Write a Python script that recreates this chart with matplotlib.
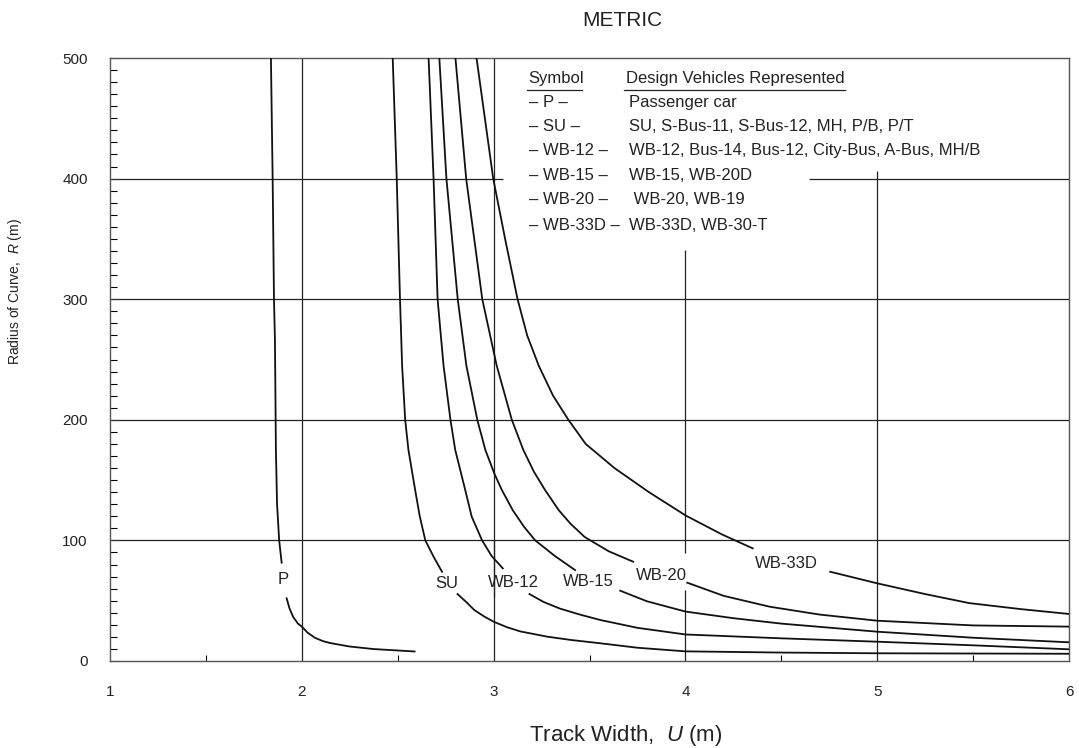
import matplotlib
matplotlib.use("Agg")
import matplotlib.pyplot as plt
from matplotlib.lines import Line2D
import numpy as np

plt.rcParams['font.family'] = ['Liberation Sans', 'DejaVu Sans']
plt.rcParams['mathtext.fontset'] = 'custom'
plt.rcParams['mathtext.rm'] = 'Liberation Sans'
plt.rcParams['mathtext.it'] = 'Liberation Sans:italic'

W, H = 1079, 748

# track width U (m) against radius R (m); every curve is broken around its label
P_U1 = [1.839, 1.848, 1.855, 1.860, 1.865, 1.871, 1.882, 1.895]
P_R1 = [500, 400, 300, 266, 175, 130, 100, 81.5]
P_U2 = [1.921, 1.935, 1.955, 1.980, 2.000, 2.030, 2.069, 2.110, 2.148, 2.250, 2.375, 2.588]
P_R2 = [52, 44, 36.5, 31, 28.5, 23.5, 19.2, 16.5, 14.9, 12.0, 9.9, 7.9]

SU_U1 = [2.474, 2.495, 2.512, 2.523, 2.539, 2.556, 2.591, 2.615, 2.644, 2.687, 2.731]
SU_R1 = [500, 400, 300, 245, 200, 175, 141.8, 120, 100, 86.5, 74]
SU_U2 = [2.812, 2.860, 2.899, 2.950, 3.000, 3.070, 3.140, 3.279, 3.400, 3.556, 3.750, 4.0, 4.5, 5.0, 6.0]
SU_R2 = [55.5, 48.5, 42.3, 37, 32.6, 28, 24.5, 20.2, 17.5, 14.7, 11.0, 8.0, 7.0, 6.4, 6.0]

WB12_U1 = [2.661, 2.687, 2.708, 2.739, 2.775, 2.800, 2.852, 2.886, 2.940, 2.990, 3.048]
WB12_R1 = [500, 400, 300, 245, 200, 175, 141.8, 119.6, 100, 87, 76.8]
WB12_U2 = [3.187, 3.260, 3.345, 3.450, 3.556, 3.750, 4.0, 4.5, 5.0, 5.5, 6.0]
WB12_R2 = [55.5, 49, 43.5, 38.5, 34, 27.5, 22.0, 18.8, 16.0, 13.0, 9.7]

WB15_U1 = [2.717, 2.754, 2.813, 2.858, 2.915, 2.957, 3.005, 3.043, 3.100, 3.160, 3.217, 3.320, 3.425]
WB15_R1 = [500, 400, 300, 245, 200, 175, 155, 141.8, 125, 111, 100, 87, 75.4]
WB15_U2 = [3.660, 3.800, 4.0, 4.25, 4.5, 5.0, 5.5, 6.0]
WB15_R2 = [58.3, 49.5, 41, 35.5, 31, 24.3, 19.3, 15.5]

WB20_U1 = [2.801, 2.857, 2.941, 3.016, 3.095, 3.155, 3.210, 3.268, 3.340, 3.400, 3.475, 3.600, 3.728]
WB20_R1 = [500, 400, 300, 245, 200, 175, 157, 141.8, 125, 114, 102.8, 91, 82.3]
WB20_U2 = [4.010, 4.200, 4.440, 4.700, 5.0, 5.5, 6.0]
WB20_R2 = [64.9, 54, 45, 38.5, 33.4, 29.5, 28.5]

WB33_U1 = [2.911, 2.998, 3.060, 3.125, 3.175, 3.235, 3.310, 3.390, 3.480, 3.630, 3.810, 4.003, 4.190, 4.351]
WB33_R1 = [500, 400, 350, 300, 270, 245, 220, 200, 180, 160, 140, 120.5, 105, 93.4]
WB33_U2 = [4.755, 5.0, 5.25, 5.48, 5.75, 6.0]
WB33_R2 = [74, 64.4, 55.5, 48, 43, 39]

CURVE_NAMES = ["P", "SU", "WB-12", "WB-15", "WB-20", "WB-33D"]
LABEL_U = [1.902, 2.756, 3.101, 3.494, 3.877, 4.528]
LABEL_R = [67.2, 64.4, 64.9, 65.8, 71.3, 81.0]

SYMBOLS = ["– P –", "– SU –", "– WB-12 –", "– WB-15 –", "– WB-20 –", "– WB-33D –"]
VEHICLES = [
    "Passenger car",
    "SU, S-Bus-11, S-Bus-12, MH, P/B, P/T",
    "WB-12, Bus-14, Bus-12, City-Bus, A-Bus, MH/B",
    "WB-15, WB-20D",
    " WB-20, WB-19",
    "WB-33D, WB-30-T",
]

X_TICKS = [1, 2, 3, 4, 5, 6]
Y_TICKS = [0, 100, 200, 300, 400, 500]

segments = [
    (P_U1, P_R1), (P_U2, P_R2),
    (SU_U1, SU_R1), (SU_U2, SU_R2),
    (WB12_U1, WB12_R1), (WB12_U2, WB12_R2),
    (WB15_U1, WB15_R1), (WB15_U2, WB15_R2),
    (WB20_U1, WB20_R1), (WB20_U2, WB20_R2),
    (WB33_U1, WB33_R1), (WB33_U2, WB33_R2),
]


def fx(px):
    return px / W


def fy(py):
    return 1 - py / H


fig = plt.figure(figsize=(W / 100, H / 100), dpi=100)
ax = fig.add_axes([fx(110), fy(661), (1069 - 110) / W, (661 - 58) / H])
ax.set_xlim(1, 6)
ax.set_ylim(0, 500)

grid_kw = dict(color='#222222', lw=0.9, zorder=1)
# horizontal grid, the 400 line is cut by the legend block
for r in [100, 200, 300]:
    ax.axhline(r, **grid_kw)
ax.hlines(400, 1, 3.047, **grid_kw)
ax.hlines(400, 4.646, 6, **grid_kw)
# vertical grid, cut where labels sit
ax.vlines(2, 0, 500, **grid_kw)
ax.vlines(3, 0, 100, **grid_kw)
ax.vlines(3, 53.3, 500, **grid_kw)
ax.vlines(4, 0, 58.9, **grid_kw)
ax.vlines(4, 89.3, 341, **grid_kw)
ax.vlines(5, 0, 406, **grid_kw)

for u, r in segments:
    ax.plot(u, r, color='#111111', lw=1.3, zorder=3, solid_joinstyle='round')

for name, u, r in zip(CURVE_NAMES, LABEL_U, LABEL_R):
    ax.text(u, r, name, ha='center', va='center', fontsize=12, color='#222222')

ax.set_xticks(X_TICKS)
ax.set_xticklabels([str(t) for t in X_TICKS])
ax.set_xticks(np.arange(1.5, 6, 1.0), minor=True)
ax.set_yticks(Y_TICKS)
ax.set_yticklabels([str(t) for t in Y_TICKS])
ax.set_yticks(np.arange(0, 501, 10), minor=True)
ax.tick_params(axis='x', which='major', length=0, pad=17, labelsize=11)
ax.tick_params(axis='x', which='minor', direction='in', length=4, width=0.8)
ax.tick_params(axis='y', which='major', direction='in', length=6, pad=16, labelsize=11)
ax.tick_params(axis='y', which='minor', direction='in', length=5, width=0.8)
ax.tick_params(colors='#333333', labelcolor='#222222')
for s in ax.spines.values():
    s.set_color('#555555')
    s.set_linewidth(1.0)

# legend block
fig.text(fx(528), fy(78), "Symbol", fontsize=12, va='center', color='#222222')
fig.text(fx(626), fy(78), "Design Vehicles Represented", fontsize=12, va='center', color='#222222')
fig.add_artist(Line2D([fx(527), fx(582)], [fy(89.5), fy(89.5)], color='#222222', lw=0.9))
fig.add_artist(Line2D([fx(624), fx(845)], [fy(89.5), fy(89.5)], color='#222222', lw=0.9))
row_y = [102.7, 126.7, 150.7, 175, 200, 225]
for sym, veh, py in zip(SYMBOLS, VEHICLES, row_y):
    fig.text(fx(529), fy(py), sym, fontsize=12, va='center', color='#222222')
    fig.text(fx(629), fy(py), veh, fontsize=12, va='center', color='#222222')

fig.text(fx(622), fy(20), "METRIC", fontsize=15, ha='center', va='center', color='#222222')
fig.text(fx(626), fy(735), r"Track Width,  $\mathit{U}$ (m)", fontsize=16, ha='center', va='center', color='#222222')
fig.text(fx(15), fy(292), r"Radius of Curve,  $\mathit{R}$ (m)", fontsize=10, rotation=90,
         ha='center', va='center', color='#222222')

fig.savefig("out.png", dpi=100)
